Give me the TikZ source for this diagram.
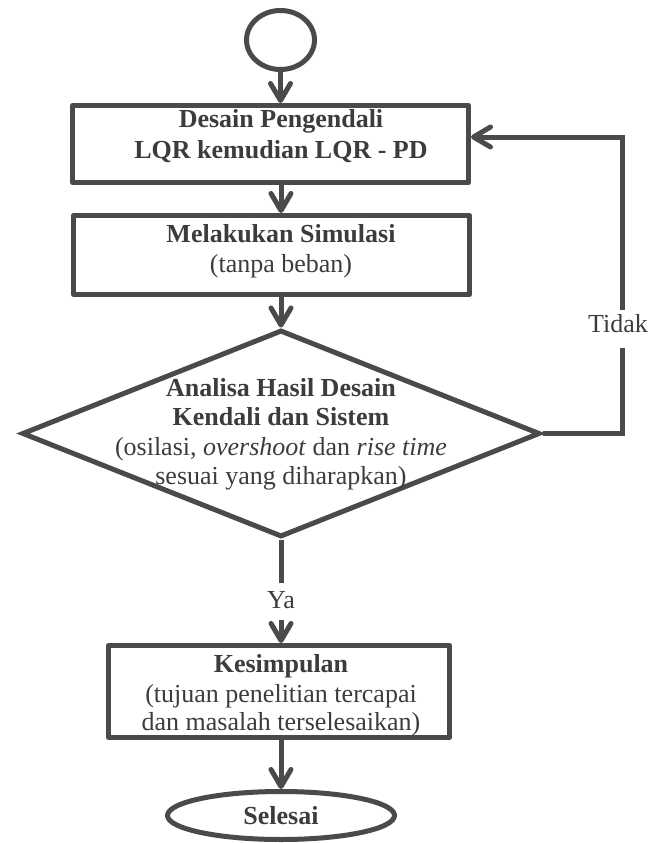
\documentclass[tikz,border=0pt]{standalone}
\usepackage{fontspec}
\setmainfont{Liberation Serif}
\usetikzlibrary{arrows.meta,shapes.geometric}
\definecolor{ink}{HTML}{4A4A4A}
\definecolor{txt}{HTML}{3C3C3C}

\begin{document}
\begin{tikzpicture}[x=1pt,y=-1pt,
  outline/.style={draw=ink,line width=5pt},
  boxnode/.style={outline,rectangle,inner sep=0pt,line join=round},
  flow/.style={draw=ink,line width=5pt},
  arr/.style={flow,-{Straight Barb[length=17pt,width=20pt,round]}},
  ln/.style={anchor=base,inner sep=0pt,text=txt,font=\fontsize{26}{30}\selectfont},
]
\useasboundingbox (0,0) rectangle (649,843);

% shapes
\node[outline,ellipse,minimum width=68pt,minimum height=59pt,inner sep=0pt] (start) at (280.5,40) {};
\node[boxnode,minimum width=396pt,minimum height=77pt] (b1) at (270.5,144) {};
\node[boxnode,minimum width=396pt,minimum height=79pt] (b2) at (271.5,255) {};
\node[outline,diamond,minimum width=518pt,minimum height=207pt,inner sep=0pt] (dec) at (281,433.5) {};
\node[boxnode,minimum width=341pt,minimum height=92pt] (b3) at (279,691.5) {};
\node[outline,ellipse,minimum width=227pt,minimum height=48pt,inner sep=0pt,
      text=txt,font=\fontsize{26}{30}\selectfont\bfseries] (stop) at (281,815.5) {Selesai};

% text lines
\node[ln] (t11) at (281,127) {\bfseries Desain Pengendali};
\node[ln] (t12) at (281,158) {\bfseries LQR kemudian LQR - PD};
\node[ln] (t21) at (281,242) {\bfseries Melakukan Simulasi};
\node[ln] (t22) at (281,272) {(tanpa beban)};
\node[ln] (t31) at (281,396) {\bfseries Analisa Hasil Desain};
\node[ln] (t32) at (281,425) {\bfseries Kendali dan Sistem};
\node[ln] (t33) at (281,455) {(osilasi, \textit{overshoot} dan \textit{rise time}};
\node[ln] (t34) at (281,484) {sesuai yang diharapkan)};
\node[ln] (t41) at (281,672) {\bfseries Kesimpulan};
\node[ln] (t42) at (281,702) {(tujuan penelitian tercapai};
\node[ln] (t43) at (281,730) {dan masalah terselesaikan)};
\node[ln] (ya) at (281,608) {Ya};
\node[ln] (tidak) at (618,332) {Tidak};

% connector helpers
\coordinate (axis) at (281,0);
\coordinate (ya1) at (281,583);
\coordinate (ya2) at (281,620);
\coordinate (td1) at (622,348);
\coordinate (td2) at (622,310);
\coordinate (fb) at (622,137);

% connectors
\draw[arr] (start.south) -- (start.south |- b1.north);
\draw[arr] (axis |- b1.south) -- (axis |- b2.north);
\draw[arr] (axis |- b2.south) -- (dec.north);
\draw[flow] (dec.south) -- (ya1);
\draw[arr] (ya2) -- (axis |- b3.north);
\draw[arr] (axis |- b3.south) -- (stop.north);
\draw[flow] (dec.east) -| (td1);
\draw[arr] (td2) -- (fb) -- (b1.east |- fb);
\end{tikzpicture}
\end{document}
